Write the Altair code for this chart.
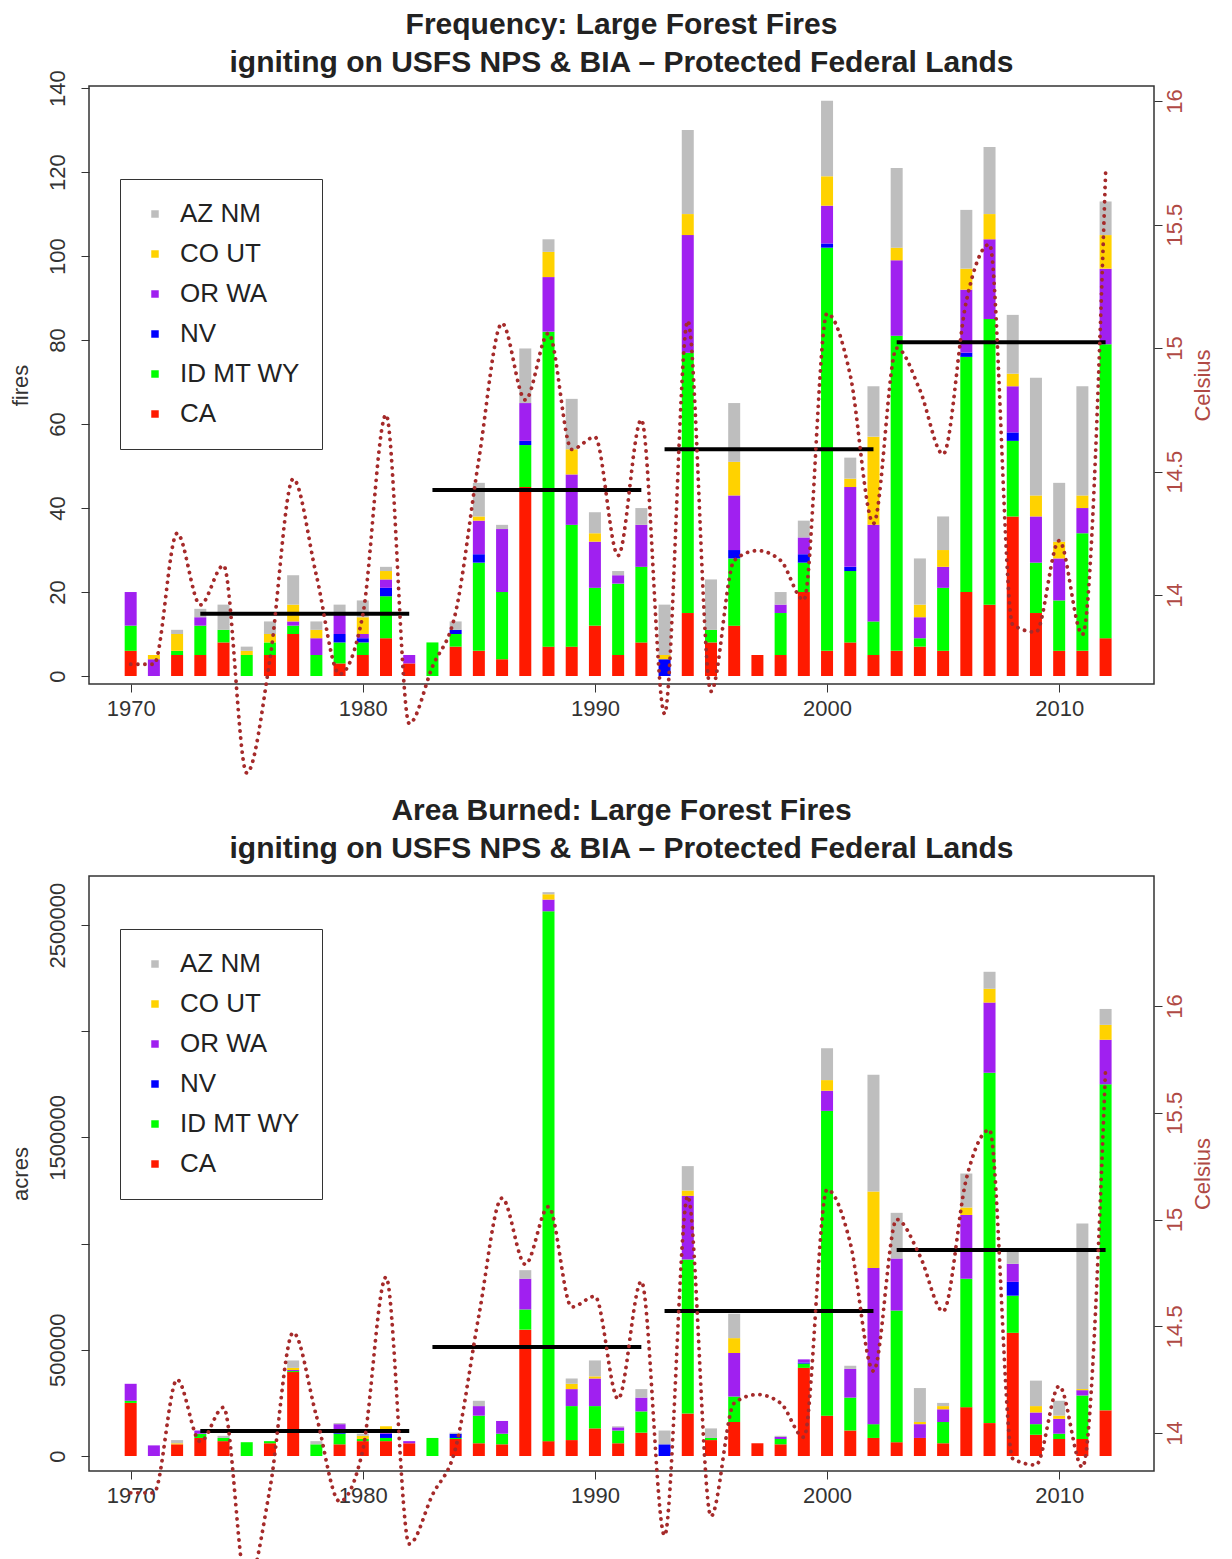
import altair as alt
import pandas as pd

# ---------------- data ----------------
years = list(range(1970, 2013))
regions = ["AZ NM", "CO UT", "OR WA", "NV", "ID MT WY", "CA"]
region_colors = ["#BEBEBE", "#FFD200", "#A020F0", "#0000FF", "#00FF00", "#FF1A00"]
stack_order = ["CA", "ID MT WY", "NV", "OR WA", "CO UT", "AZ NM"]

# number of large fires per year
fires_CA = [6, 0, 5, 5, 8, 0, 5, 10, 0, 3, 5, 9, 3, 0, 7, 6, 4, 45, 7, 7, 12, 5, 8, 0, 15, 8, 12, 5, 5, 20,
            6, 8, 5, 6, 7, 6, 20, 17, 38, 15, 6, 6, 9]
fires_IDMTWY = [6, 0, 1, 7, 3, 5, 3, 2, 5, 5, 3, 10, 0, 8, 3, 21, 16, 10, 75, 29, 9, 17, 18, 0, 62, 3, 16, 0, 10, 7,
                96, 17, 8, 75, 2, 15, 56, 68, 18, 12, 12, 28, 70]
fires_NV = [0, 0, 0, 0, 0, 0, 0, 0, 0, 2, 1, 2, 0, 0, 1, 2, 0, 1, 0, 0, 0, 0, 0, 4, 0, 0, 2, 0, 0, 2,
            1, 1, 0, 0, 0, 0, 1, 0, 2, 0, 0, 0, 0]
fires_ORWA = [8, 4, 0, 2, 0, 0, 0, 1, 4, 5, 1, 2, 2, 0, 0, 8, 15, 9, 13, 12, 11, 2, 10, 0, 28, 0, 13, 0, 2, 4,
              9, 19, 23, 18, 5, 5, 15, 19, 11, 11, 10, 6, 18]
fires_COUT = [0, 1, 4, 0, 0, 1, 2, 4, 2, 0, 4, 2, 0, 0, 0, 1, 0, 0, 6, 6, 2, 0, 0, 1, 5, 0, 8, 0, 0, 0,
              7, 2, 21, 3, 3, 4, 5, 6, 3, 5, 4, 3, 8]
fires_AZNM = [0, 0, 1, 2, 6, 1, 3, 7, 2, 2, 4, 1, 0, 0, 2, 8, 1, 13, 3, 12, 5, 1, 4, 12, 20, 12, 14, 0, 3, 4,
              18, 5, 12, 19, 11, 8, 14, 16, 14, 28, 14, 26, 8]

# acres burned per year
acres_CA = [250000, 0, 55000, 85000, 70000, 0, 60000, 395000, 0, 55000, 70000, 70000, 60000, 0, 80000,
            60000, 55000, 595000, 70000, 75000, 130000, 60000, 110000, 0, 200000, 75000, 160000, 60000,
            55000, 415000, 190000, 120000, 85000, 65000, 85000, 60000, 230000, 155000, 580000, 100000,
            80000, 80000, 215000]
acres_IDMTWY = [10000, 0, 0, 20000, 15000, 65000, 10000, 5000, 55000, 50000, 10000, 15000, 0, 85000, 5000,
                130000, 50000, 95000, 2495000, 160000, 105000, 60000, 100000, 0, 725000, 10000, 120000, 0,
                25000, 20000, 1435000, 155000, 65000, 620000, 0, 100000, 605000, 1650000, 175000, 50000,
                25000, 205000, 1535000]
acres_NV = [0, 0, 0, 0, 0, 0, 0, 0, 0, 20000, 0, 20000, 0, 0, 20000, 0, 0, 0, 0, 0, 0, 0, 0, 55000, 0, 0,
            0, 0, 0, 5000, 0, 0, 0, 0, 0, 0, 0, 0, 65000, 0, 0, 0, 0]
acres_ORWA = [80000, 50000, 0, 15000, 0, 0, 0, 5000, 0, 25000, 0, 5000, 10000, 0, 0, 45000, 60000, 145000,
              55000, 80000, 130000, 15000, 65000, 0, 300000, 0, 205000, 0, 10000, 15000, 95000, 135000,
              735000, 245000, 65000, 60000, 300000, 330000, 85000, 55000, 70000, 25000, 210000]
acres_COUT = [0, 0, 5000, 0, 0, 0, 0, 10000, 0, 0, 15000, 30000, 0, 0, 0, 0, 0, 0, 25000, 25000, 10000, 0,
              0, 0, 25000, 0, 70000, 0, 0, 0, 50000, 0, 360000, 0, 10000, 15000, 35000, 65000, 0, 30000,
              15000, 5000, 70000]
acres_AZNM = [0, 0, 15000, 0, 10000, 0, 0, 35000, 15000, 5000, 10000, 0, 0, 0, 5000, 25000, 0, 40000, 10000,
              25000, 75000, 5000, 40000, 65000, 115000, 45000, 115000, 0, 5000, 0, 150000, 15000, 550000,
              215000, 160000, 15000, 160000, 80000, 65000, 120000, 70000, 780000, 75000]

# annual temperature (Celsius), drawn as the dotted curve
temp_c = [13.72, 13.72, 14.25, 13.96, 14.12, 13.28, 13.74, 14.47, 14.08, 13.68, 13.92, 14.73, 13.48, 13.71,
          13.93, 14.55, 15.10, 14.79, 15.06, 14.59, 14.64, 14.16, 14.71, 13.52, 15.11, 13.61, 14.14, 14.18,
          14.14, 13.98, 15.14, 14.89, 14.29, 15.00, 14.83, 14.57, 15.19, 15.42, 13.88, 13.85, 14.22, 13.84,
          15.71]

# decade means (black lines)
decade_start = [1973, 1983, 1993, 2003]
decade_end = [1982, 1992, 2002, 2012]
fires_decade_mean = [14.8, 44.3, 54.0, 79.5]
acres_decade_mean = [118000, 513000, 683000, 970000]

FONT = "Liberation Sans"
TEMP_COLOR = "#A52A2A"
TEMP_LABEL = "#B04A45"
AXIS_FS = 22


def long_df(series, field):
    rows = []
    for reg, vals in series.items():
        for y, v in zip(years, vals):
            rows.append({"year": y, "region": reg, field: v, "stack": stack_order.index(reg)})
    return pd.DataFrame(rows)


fires_df = long_df({"CA": fires_CA, "ID MT WY": fires_IDMTWY, "NV": fires_NV, "OR WA": fires_ORWA,
                    "CO UT": fires_COUT, "AZ NM": fires_AZNM}, "fires")
acres_df = long_df({"CA": acres_CA, "ID MT WY": acres_IDMTWY, "NV": acres_NV, "OR WA": acres_ORWA,
                    "CO UT": acres_COUT, "AZ NM": acres_AZNM}, "acres")
temp_df = pd.DataFrame({"year": years, "celsius": temp_c})


def panel(df, field, ytitle, ydomain, yvalues, ylabel_expr, temp_domain, means, title_lines,
          legend_y, height, title_offset):
    x_axis = alt.Axis(values=[1970, 1980, 1990, 2000, 2010], format="d", title=None, tickSize=8,
                      labelPadding=6, labelFontSize=AXIS_FS, labelColor="#333", tickColor="#333",
                      domain=False, grid=False, labelFlush=False, labelOverlap=False)
    x_scale = alt.Scale(domain=[1968.42, 2013.87], nice=False, zero=False)
    y_axis = alt.Axis(values=yvalues, title=ytitle, labelExpr=ylabel_expr, labelAngle=270,
                      labelAlign="center", labelBaseline="bottom", labelPadding=12, labelFontSize=AXIS_FS,
                      labelColor="#333", tickSize=8, tickColor="#333", domain=False, grid=False,
                      titleFontSize=22, titleFontWeight="normal", titleColor="#333", titlePadding=14,
                      labelOverlap=False, labelFlush=False)
    y_scale = alt.Scale(domain=ydomain, nice=False, zero=False)

    color = alt.Color("region:N", scale=alt.Scale(domain=regions, range=region_colors),
                      legend=alt.Legend(title=None, orient="none", legendX=31, legendY=legend_y,
                                        direction="vertical", symbolType="square", symbolSize=56,
                                        symbolStrokeWidth=0, labelFontSize=26, labelColor="#222",
                                        labelOffset=12, rowPadding=14, padding=22,
                                        strokeColor="#333", fillColor="white"))

    bars = alt.Chart(df).mark_bar(size=12).encode(
        x=alt.X("year:Q", scale=x_scale, axis=x_axis),
        y=alt.Y(f"{field}:Q", stack="zero", scale=y_scale, axis=y_axis),
        color=color,
        order=alt.Order("stack:Q", sort="ascending"),
    )

    mean_df = pd.DataFrame({"year": decade_start, "year_end": decade_end, field: means})
    rules = alt.Chart(mean_df).mark_rule(strokeWidth=4, color="black").encode(
        x=alt.X("year:Q", scale=x_scale, axis=x_axis),
        x2="year_end:Q",
        y=alt.Y(f"{field}:Q", scale=y_scale, axis=y_axis),
    )

    temp = alt.Chart(temp_df).mark_line(interpolate="monotone", strokeDash=[0.1, 7], strokeCap="round",
                                        strokeWidth=3.8, color=TEMP_COLOR).encode(
        x=alt.X("year:Q", scale=x_scale, axis=x_axis),
        y=alt.Y("celsius:Q", scale=alt.Scale(domain=temp_domain, nice=False, zero=False),
                axis=alt.Axis(orient="right", values=[14, 14.5, 15, 15.5, 16], title="Celsius",
                              labelExpr="datum.value + ''",
                              labelAngle=270, labelAlign="center", labelBaseline="top", labelPadding=2,
                              labelFontSize=AXIS_FS, labelColor=TEMP_LABEL, tickSize=8, tickColor="#333",
                              domain=False, grid=False, titleFontSize=22, titleFontWeight="normal",
                              titleColor=TEMP_LABEL, titleAngle=270, titleBaseline="top",
                              titlePadding=7, labelOverlap=False, labelFlush=False)),
    )

    return alt.layer(alt.layer(bars, rules), temp).resolve_scale(y="independent").properties(
        width=1065, height=height,
        title=alt.TitleParams(text=title_lines, fontSize=30, fontWeight="bold", color="#222",
                              lineHeight=38, offset=title_offset, anchor="middle", frame="group", font=FONT),
    )


top = panel(fires_df, "fires", "fires", [-1.9, 140.5], [0, 20, 40, 60, 80, 100, 120, 140], "datum.label",
            [13.64, 16.061], fires_decade_mean,
            ["Frequency: Large Forest Fires", "igniting on USFS NPS & BIA \u2013 Protected Federal Lands"],
            93, 598, -8)

bottom = panel(acres_df, "acres", "acres", [-70600, 2731000], [0, 500000, 1000000, 1500000, 2000000, 2500000],
               "(datum.value == 1000000 || datum.value == 2000000) ? '' : format(datum.value, 'd')",
               [13.822, 16.609], acres_decade_mean,
               ["Area Burned: Large Forest Fires", "igniting on USFS NPS & BIA \u2013 Protected Federal Lands"],
               53, 595, 12)

chart = alt.vconcat(top, bottom, spacing=192, bounds="flush").resolve_scale(color="independent").properties(
    padding={"left": 0, "top": 0, "right": 5, "bottom": 5}
).configure(font=FONT).configure_view(stroke="#333", strokeWidth=1.5)

chart.save("out.html", embed_options={"renderer": "svg", "actions": False})
